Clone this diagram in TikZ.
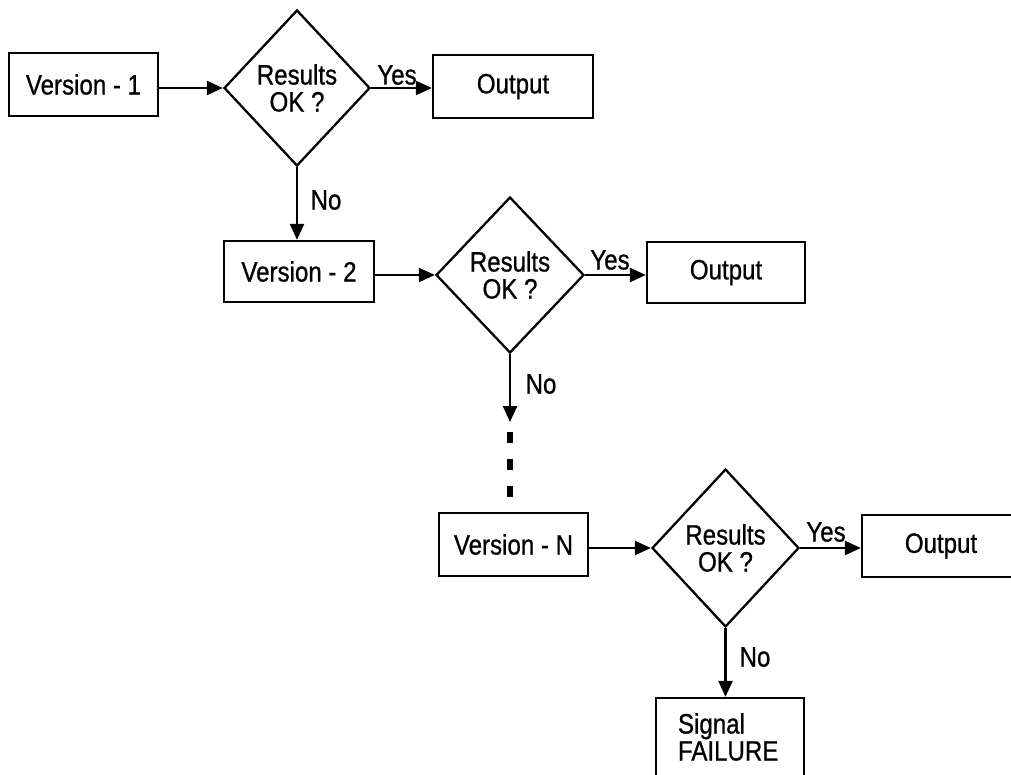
\documentclass[tikz,border=0pt]{standalone}
\usepackage{fontspec}
\setmainfont{Liberation Sans}[FakeStretch=0.86,FakeBold=0.8]
\usetikzlibrary{shapes.geometric,arrows.meta}
\begin{document}
\begin{tikzpicture}[x=1pt,y=-1pt,
  txt/.style={font=\fontsize{28}{27}\selectfont},
  box/.style={draw, line width=2.3pt, inner sep=0pt, align=center, txt},
  decision/.style={draw, diamond, line width=2.3pt, inner sep=0pt, align=center, txt},
  flow/.style={line width=2.3pt, -{Triangle[length=16pt,width=14pt]}},
  dots/.style={line width=5.5pt, dash pattern=on 11pt off 16pt},
  lbl/.style={inner sep=0pt, txt}]
\clip (0,0) rectangle (1011,774);
\fill[white] (0,0) rectangle (1011,774);
% boxes and decisions
\node[box, minimum width=149pt, minimum height=63pt] (v1) at (83.5,84.5) {Version - 1};
\node[decision, minimum width=146pt, minimum height=156pt] (d1) at (297,88) {Results\\OK ?};
\node[box, minimum width=160pt, minimum height=63pt] (o1) at (513,86.5) {Output};
\node[box, minimum width=150pt, minimum height=61pt] (v2) at (299,271.5) {Version - 2};
\node[decision, minimum width=148pt, minimum height=156pt] (d2) at (510,275) {Results\\OK ?};
\node[box, minimum width=158pt, minimum height=61pt] (o2) at (726,272.5) {Output};
\node[box, minimum width=149pt, minimum height=63pt] (vn) at (513.5,544.5) {Version - N};
\node[decision, minimum width=147pt, minimum height=158pt] (d3) at (725.5,548) {Results\\OK ?};
\node[box, minimum width=158pt, minimum height=62pt] (o3) at (941,546) {Output};
\node[box, align=left, text width=104pt, inner xsep=22pt, inner ysep=0pt,
      minimum height=78pt] (fail) at (730,737) {Signal\\FAILURE};
% labels
\node[lbl] (yes1) at (397,75) {Yes};
\node[lbl] (no1) at (326,200) {No};
\node[lbl] (yes2) at (610,260) {Yes};
\node[lbl] (no2) at (541,384) {No};
\node[lbl] (yes3) at (826,532) {Yes};
\node[lbl] (no3) at (755,657) {No};
% connectors
\coordinate (gapA) at (510,422);
\coordinate (gapB) at (510,432);
\coordinate (gapC) at (510,497);
\draw[flow] (v1.east |- d1.west) -- (d1.west);
\draw[flow] (d1.east) -- (o1.west |- d1.east);
\draw[flow] (d1.south) -- (d1.south |- v2.north);
\draw[flow] (v2.east |- d2.west) -- (d2.west);
\draw[flow] (d2.east) -- (o2.west |- d2.east);
\draw[flow] (d2.south) -- (gapA);
\draw[dots] (gapB) -- (gapC);
\draw[flow] (vn.east |- d3.west) -- (d3.west);
\draw[flow] (d3.east) -- (o3.west |- d3.east);
\draw[flow] (d3.south) -- (d3.south |- fail.north);
\end{tikzpicture}
\end{document}
